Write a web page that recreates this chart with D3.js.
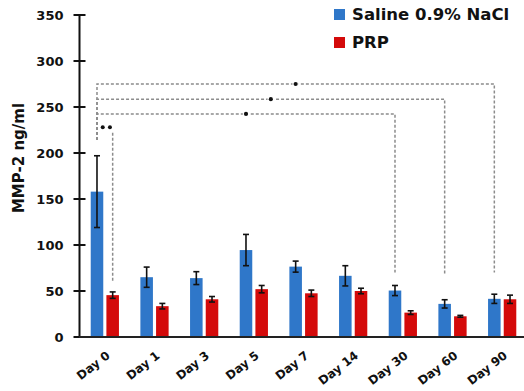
<!DOCTYPE html>
<html>
<head>
<meta charset="utf-8">
<script src="https://cdn.jsdelivr.net/npm/d3@7"></script>
<style>
  body { margin: 0; background: #fff; }
  svg { display: block; font-family: "DejaVu Sans", sans-serif; font-weight: bold; }
</style>
</head>
<body>
<div id="chart"></div>
<script>
// data
var days = ["Day 0", "Day 1", "Day 3", "Day 5", "Day 7", "Day 14", "Day 30", "Day 60", "Day 90"];
var groups = ["Saline 0.9% NaCl", "PRP"];
var salineMean = [158, 65, 64, 94.5, 76.5, 66.5, 50.5, 36, 41.5];
var salineErr  = [39, 11, 7, 17, 6, 11, 5.5, 4.5, 5];
var prpMean    = [45.5, 33.5, 41, 52, 47.5, 50, 26.5, 22.5, 41];
var prpErr     = [3.5, 3, 3, 4, 3.5, 3, 2, 1, 4.5];
var yTicks = [0, 50, 100, 150, 200, 250, 300, 350];

// significance brackets (from Day 0 saline to the given day's saline)
var brackets = [
  { to: "Day 90", level: 275, bottom: 70 },
  { to: "Day 60", level: 258.5, bottom: 69 },
  { to: "Day 30", level: 242.5, bottom: 70 }
];

var width = 524, height = 391;
var colors = { "Saline 0.9% NaCl": "#2f77c9", "PRP": "#d40a0a" };

var svg = d3.select("#chart").append("svg")
  .attr("width", width)
  .attr("height", height);

var y = d3.scaleLinear().domain([0, 350]).range([337, 15]);

var x = d3.scaleBand()
  .domain(days)
  .range([80, 527])
  .paddingInner(0.4)
  .paddingOuter(0.2);

var x1 = d3.scaleBand()
  .domain(groups)
  .range([0, x.bandwidth()])
  .paddingInner(0.2)
  .paddingOuter(0.05);

var rows = days.map(function(d, i) {
  return [
    { day: d, key: groups[0], v: salineMean[i], e: salineErr[i] },
    { day: d, key: groups[1], v: prpMean[i], e: prpErr[i] }
  ];
});

var cx = function(d, key) { return x(d) + x1(key) + x1.bandwidth() / 2; };

// bars
var g = svg.append("g");
g.selectAll("g.day")
  .data(rows)
  .enter().append("g")
    .attr("class", "day")
  .selectAll("rect")
  .data(function(d) { return d; })
  .enter().append("rect")
    .attr("x", function(d) { return x(d.day) + x1(d.key); })
    .attr("y", function(d) { return y(d.v); })
    .attr("width", x1.bandwidth())
    .attr("height", function(d) { return y(0) - y(d.v); })
    .attr("fill", function(d) { return colors[d.key]; });

// error bars
var all = rows.flat();
var eb = g.selectAll("g.err").data(all).enter().append("g").attr("class", "err")
  .attr("stroke", "#111").attr("stroke-width", 1.6);
eb.append("line")
  .attr("x1", function(d) { return cx(d.day, d.key); })
  .attr("x2", function(d) { return cx(d.day, d.key); })
  .attr("y1", function(d) { return y(d.v + d.e); })
  .attr("y2", function(d) { return y(d.v - d.e); });
eb.selectAll("line.cap")
  .data(function(d) { return [d.v + d.e, d.v - d.e].map(function(v) { return { d: d, v: v }; }); })
  .enter().append("line")
    .attr("class", "cap")
    .attr("x1", function(c) { return cx(c.d.day, c.d.key) - 3; })
    .attr("x2", function(c) { return cx(c.d.day, c.d.key) + 3; })
    .attr("y1", function(c) { return y(c.v); })
    .attr("y2", function(c) { return y(c.v); });

// significance brackets
var dash = { stroke: "#8c8c8c", "stroke-width": 1.5, "stroke-dasharray": "3,2", fill: "none" };
var x0 = cx("Day 0", groups[0]);
var br = svg.append("g");
brackets.forEach(function(b) {
  var xr = cx(b.to, groups[0]);
  var p = br.append("path")
    .attr("d", "M" + x0 + "," + y(214) + "V" + y(b.level) + "H" + xr + "V" + y(b.bottom));
  Object.keys(dash).forEach(function(k) { p.attr(k, dash[k]); });
  br.append("circle")
    .attr("cx", (x0 + xr) / 2)
    .attr("cy", y(b.level))
    .attr("r", 3.2)
    .attr("fill", "#fff");
  br.append("circle")
    .attr("cx", (x0 + xr) / 2)
    .attr("cy", y(b.level))
    .attr("r", 2.1)
    .attr("fill", "#111");
});
// Day 0 saline vs PRP
var xp = cx("Day 0", groups[1]);
var p0 = br.append("path").attr("d", "M" + xp + "," + y(222) + "V" + y(60));
Object.keys(dash).forEach(function(k) { p0.attr(k, dash[k]); });
var mid = x(days[0]) + x.bandwidth() / 2 + 1.5;
br.selectAll("circle.star")
  .data([-3.6, 3.6])
  .enter().append("circle")
    .attr("class", "star")
    .attr("cx", function(d) { return mid + d; })
    .attr("cy", y(228))
    .attr("r", 2)
    .attr("fill", "#111");

// y axis
var yAxis = svg.append("g").attr("transform", "translate(79.5,0)");
yAxis.append("line")
  .attr("y1", y(350)).attr("y2", y(0))
  .attr("stroke", "#111").attr("stroke-width", 2);
yAxis.selectAll("line.tick")
  .data(yTicks)
  .enter().append("line")
    .attr("class", "tick")
    .attr("x1", -6).attr("x2", 6)
    .attr("y1", function(d) { return y(d); })
    .attr("y2", function(d) { return y(d); })
    .attr("stroke", "#111").attr("stroke-width", 2);
yAxis.selectAll("text")
  .data(yTicks)
  .enter().append("text")
    .attr("x", -16)
    .attr("y", function(d) { return y(d); })
    .attr("dy", "0.36em")
    .attr("text-anchor", "end")
    .attr("font-size", 13)
    .attr("fill", "#111")
    .text(function(d) { return d; });

svg.append("text")
  .attr("transform", "translate(24," + 158 + ") rotate(-90)")
  .attr("text-anchor", "middle")
  .attr("font-size", 15)
  .attr("fill", "#111")
  .text("MMP-2 ng/ml");

// x axis
svg.append("line")
  .attr("x1", 79).attr("x2", width)
  .attr("y1", y(0)).attr("y2", y(0))
  .attr("stroke", "#222").attr("stroke-width", 2);

svg.append("g").selectAll("text")
  .data(days)
  .enter().append("text")
    .attr("transform", function(d) {
      return "translate(" + (x(d) + x.bandwidth() / 2 + 6) + ",357) rotate(-38)";
    })
    .attr("text-anchor", "end")
    .attr("font-size", 12)
    .attr("fill", "#111")
    .text(function(d) { return d; });

// legend
var leg = svg.append("g").selectAll("g")
  .data(groups)
  .enter().append("g")
    .attr("transform", function(d, i) { return "translate(334," + (9 + i * 28) + ")"; });
leg.append("rect")
  .attr("width", 11).attr("height", 11)
  .attr("fill", function(d) { return colors[d]; });
leg.append("text")
  .attr("x", 18).attr("y", 11)
  .attr("font-size", 16.5)
  .attr("fill", "#111")
  .text(function(d) { return d; });
</script>
</body>
</html>
